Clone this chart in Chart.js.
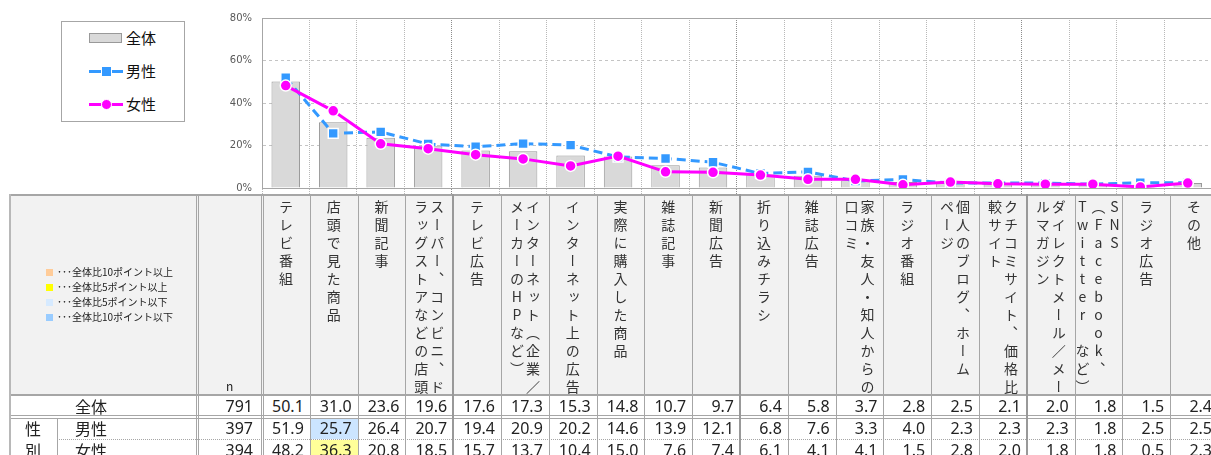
<!DOCTYPE html>
<html lang="ja">
<head>
<meta charset="utf-8">
<script src="https://cdn.jsdelivr.net/npm/chart.js@4.4.1/dist/chart.umd.min.js"></script>
<style>
html, body { margin: 0; padding: 0; background: #fff; overflow: hidden; width: 1211px; height: 455px; }
#page { position: relative; width: 1230px; height: 480px; font-family: 'Noto Sans CJK JP', sans-serif; color: #222; }
#chart { position: absolute; left: 0; top: 0; }
.abs { position: absolute; box-sizing: border-box; }
.legend { left: 61px; top: 21px; width: 124px; height: 101px; border: 1px solid #a6a6a6; background: #fff; }
.lgText { position: absolute; left: 126px; font-size: 15px; line-height: 20px; color: #111; }
.head { position: absolute; top: 200px; height: 194px; display: flex; justify-content: center; }
.head span { writing-mode: vertical-rl; text-orientation: upright; white-space: pre; font-size: 14px; letter-spacing: 4px; line-height: 16px; color: #333; }
.num { position: absolute; text-align: right; font-family: 'Noto Sans', sans-serif; font-size: 16px; color: #222; }
.lab { position: absolute; font-size: 16px; color: #222; }
.diff { position: absolute; left: 57px; font-size: 10px; line-height: 14px; color: #222; white-space: nowrap; }
</style>
</head>
<body>
<div id="page">
  <canvas id="chart" width="1220" height="204" style="width:1220px;height:204px"></canvas>
</div>
<script>
// 各項目（選択肢）
const categories = [
  'テレビ番組',
  '店頭で見た商品',
  '新聞記事',
  'スーパー、コンビニ、ド\nラッグストアなどの店頭',
  'テレビ広告',
  'インターネット（企業／\nメーカーのHPなど）',
  'インターネット上の広告',
  '実際に購入した商品',
  '雑誌記事',
  '新聞広告',
  '折り込みチラシ',
  '雑誌広告',
  '家族・友人・知人からの\n口コミ',
  'ラジオ番組',
  '個人のブログ、ホーム\nページ',
  'クチコミサイト、価格比\n較サイト',
  'ダイレクトメール／メー\nルマガジン',
  'SNS\n（Facebook、\nTwitter など）',
  'ラジオ広告',
  'その他'
];

const totalValues  = [50.1, 31.0, 23.6, 19.6, 17.6, 17.3, 15.3, 14.8, 10.7, 9.7, 6.4, 5.8, 3.7, 2.8, 2.5, 2.1, 2.0, 1.8, 1.5, 2.4];
const maleValues   = [51.9, 25.7, 26.4, 20.7, 19.4, 20.9, 20.2, 14.6, 13.9, 12.1, 6.8, 7.6, 3.3, 4.0, 2.3, 2.3, 2.3, 1.8, 2.5, 2.5];
const femaleValues = [48.2, 36.3, 20.8, 18.5, 15.7, 13.7, 10.4, 15.0, 7.6, 7.4, 6.1, 4.1, 4.1, 1.5, 2.8, 2.0, 1.8, 1.8, 0.5, 2.3];

const rowLabels   = ['全体', '男性', '女性'];
const sampleSizes = [791, 397, 394];
const yTickLabels = ['0%', '20%', '40%', '60%', '80%'];
const diffLegend  = ['･･･全体比10ポイント以上', '･･･全体比5ポイント以上', '･･･全体比5ポイント以下', '･･･全体比10ポイント以下'];
const diffColors  = ['#ffcc99', '#ffff00', '#d6eaff', '#99ccff'];
const cellColors  = ['#fcd5b4', '#ffff99', '#cce5ff', '#99ccff'];

const page = document.getElementById('page');
const COL0 = 262, COLW = 47.8;
const colX = i => COL0 + i * COLW;

function box(x, y, w, h, css, cls, text) {
  const d = document.createElement('div');
  d.className = cls || 'abs';
  d.style.cssText = `left:${x}px;top:${y}px;width:${w}px;height:${h}px;` + (css || '');
  if (text !== undefined) d.textContent = text;
  page.appendChild(d);
  return d;
}

// ---- chart legend (top left) ----
box(61, 21, 124, 101, '', 'abs legend');
box(89, 33, 33, 10, 'background:#d9d9d9;border:1px solid #999;');
box(126, 28, 40, 20, '', 'lgText', rowLabels[0]);
box(89, 70, 12, 3, 'background:#3399ff;');
box(111, 70, 12, 3, 'background:#3399ff;');
box(101, 66, 11, 11, 'background:#3399ff;border:1.5px solid #fff;');
box(126, 61, 40, 20, '', 'lgText', rowLabels[1]);
box(89, 103, 12, 3, 'background:#ff00ff;');
box(111, 103, 12, 3, 'background:#ff00ff;');
box(100.5, 99, 11, 11, 'background:#ff00ff;border:1.5px solid #fff;border-radius:50%;');
box(126, 94, 40, 20, '', 'lgText', rowLabels[2]);

// ---- table ----
const RIGHT = colX(categories.length);
box(9, 195, RIGHT - 9, 199, 'background:#f2f2f2;');

// highlight colour by difference from 全体
function diffColor(v, base) {
  const d = v - base;
  if (d >= 10) return cellColors[0];
  if (d >= 5) return cellColors[1];
  if (d <= -10) return cellColors[3];
  if (d <= -5) return cellColors[2];
  return null;
}

const rows = [
  { top: 396, h: 20, vals: totalValues },
  { top: 418, h: 21, vals: maleValues },
  { top: 440, h: 21, vals: femaleValues }
];

rows.forEach((r, ri) => {
  r.vals.forEach((v, i) => {
    const bg = ri > 0 ? diffColor(v, totalValues[i]) : null;
    if (bg) box(colX(i) + 1, r.top, COLW - 1, r.h, 'background:' + bg + ';');
    box(colX(i), r.top, COLW - 6, r.h, `line-height:${r.h}px;`, 'num', v.toFixed(1));
  });
  box(198, r.top, 55, r.h, `line-height:${r.h}px;`, 'num', String(sampleSizes[ri]));
  box(75, r.top, 60, r.h, `line-height:${r.h}px;`, 'lab', rowLabels[ri]);
});
box(25, 418, 20, 21, 'line-height:21px;', 'lab', '性');
box(25, 440, 20, 21, 'line-height:21px;', 'lab', '別');

// header texts
categories.forEach((c, i) => {
  const h = box(colX(i), 200, COLW, 194, '', 'head');
  const s = document.createElement('span');
  s.textContent = c;
  h.appendChild(s);
});
box(226, 378, 20, 16, 'font-size:12px;line-height:16px;', 'lab', 'n');

// colour legend in header
diffLegend.forEach((t, i) => {
  const y = 272 + i * 15;
  box(46, y - 3, 7, 7, 'background:' + diffColors[i] + ';');
  box(57, y - 7, 120, 14, '', 'diff', t);
});

// grid lines of the table
const LINE = '#a6a6a6';
box(9, 194, RIGHT - 9, 2, 'background:' + LINE + ';');
box(9, 394, RIGHT - 9, 2, 'background:' + LINE + ';');
box(9, 415, RIGHT - 9, 1, 'background:' + LINE + ';');
box(9, 418, RIGHT - 9, 1, 'background:' + LINE + ';');
box(57, 439, RIGHT - 57, 1, 'border-top:1px dotted ' + LINE + ';');
box(9, 194, 2, 280, 'background:#b8b8b8;');
box(57, 418, 1, 60, 'background:' + LINE + ';');
box(196, 194, 3, 280, 'border-left:3px double ' + LINE + ';');
box(260.5, 194, 3, 280, 'border-left:3px double ' + LINE + ';');
for (let i = 1; i < categories.length; i++) {
  const thick = [4, 10, 16].includes(i);
  box(Math.round(colX(i)) - (thick ? 1 : 0), 194, thick ? 2 : 1, 280, 'background:' + (thick ? '#999' : LINE) + ';');
}

// ---- chart ----
const frameTop = {
  id: 'frameTop',
  beforeDatasetsDraw(chart) {
    const { ctx, chartArea: a } = chart;
    ctx.save();
    ctx.strokeStyle = LINE;
    ctx.lineWidth = 1;
    ctx.beginPath();
    ctx.moveTo(a.left, Math.round(a.top) + 0.5);
    ctx.lineTo(a.right, Math.round(a.top) + 0.5);
    ctx.stroke();
    ctx.restore();
  }
};

Chart.defaults.font.family = 'DejaVu Sans';

new Chart(document.getElementById('chart').getContext('2d'), {
  type: 'bar',
  data: {
    labels: categories.map(c => c.replace(/\n/g, '')),
    datasets: [{
      type: 'line',
      label: rowLabels[2],
      data: femaleValues,
      borderColor: '#ff00ff',
      backgroundColor: '#ff00ff',
      borderWidth: 3,
      pointStyle: 'circle',
      pointRadius: 5.5,
      pointBackgroundColor: '#ff00ff',
      pointBorderColor: '#fff',
      pointBorderWidth: 1.5,
      order: 0
    }, {
      type: 'line',
      label: rowLabels[1],
      data: maleValues,
      borderColor: '#3399ff',
      backgroundColor: '#3399ff',
      borderWidth: 3,
      borderDash: [9, 5],
      pointStyle: 'rect',
      pointRadius: 7,
      pointBackgroundColor: '#3399ff',
      pointBorderColor: '#fff',
      pointBorderWidth: 1.5,
      order: 1
    }, {
      type: 'bar',
      label: rowLabels[0],
      data: totalValues,
      backgroundColor: '#d9d9d9',
      borderColor: '#999',
      borderWidth: 1,
      barPercentage: 0.6,
      categoryPercentage: 1,
      order: 2
    }]
  },
  options: {
    responsive: false,
    animation: false,
    events: [],
    layout: { padding: { left: 0, top: 18, right: 2, bottom: 0 } },
    plugins: { legend: { display: false }, tooltip: { enabled: false } },
    scales: {
      x: {
        offset: true,
        grid: {
          offset: true,
          color: ctx => [4, 10, 16].includes(ctx.index) ? '#8c8c8c' : '#b8b8b8',
          drawTicks: true,
          tickLength: 8,
          tickBorderDash: [1, 1]
        },
        border: { display: true, color: LINE, dash: [1, 1] },
        ticks: { display: false },
        afterFit: s => { s.height = 8; }
      },
      y: {
        min: 0,
        max: 80,
        ticks: {
          stepSize: 20,
          padding: 10,
          color: '#595959',
          font: { size: 10 },
          callback: (v, i) => yTickLabels[i]
        },
        grid: { color: '#c4c4c4', drawTicks: false },
        border: { display: true, color: LINE, dash: [3, 3] },
        afterFit: s => { s.width = 262; }
      }
    }
  },
  plugins: [frameTop]
});
</script>
</body>
</html>
